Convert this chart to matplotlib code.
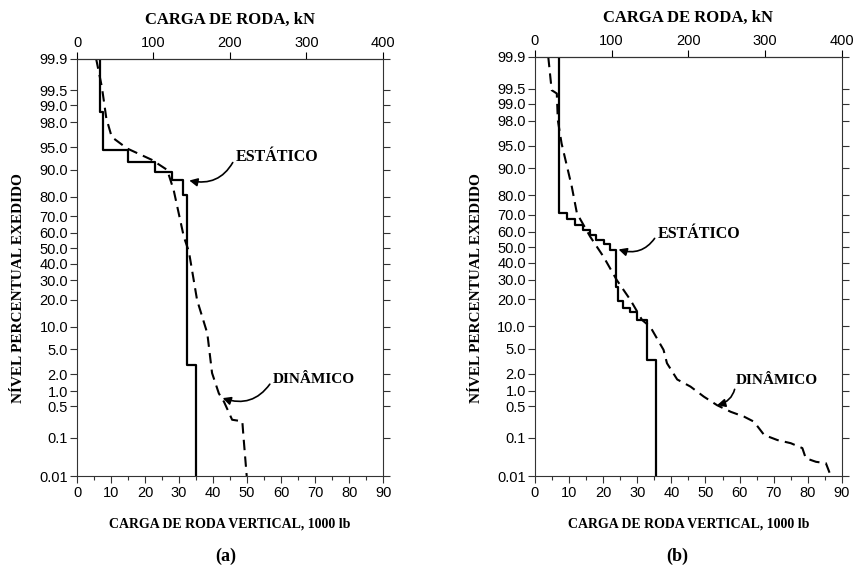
import numpy as np
import matplotlib.pyplot as plt
from statistics import NormalDist

# escala de probabilidade normal (percentagem -> desvio padrão)
nd = NormalDist()


def _ppf(v):
    if not np.isfinite(v):
        return np.nan
    v = min(max(v, 1e-7), 100 - 1e-7)
    return nd.inv_cdf(v / 100.0)


def _cdf(v):
    if not np.isfinite(v):
        return np.nan
    return nd.cdf(v) * 100.0


pct_fwd = np.vectorize(_ppf, otypes=[float])
pct_inv = np.vectorize(_cdf, otypes=[float])


def kip_to_kn(x):
    return np.asarray(x) * 4.448


def kn_to_kip(x):
    return np.asarray(x) / 4.448


# ---- dados (a) ----
a_static_load = [6.8, 7.6, 15.1, 23.0, 27.9, 31.2, 32.4, 35.1, 35.1]
a_static_pct = [99.9, 98.7, 94.6, 92.1, 89.2, 86.7, 80.7, 2.9, 0.01]

a_dyn_load = [5.6, 7.3, 8.6, 10.2, 14.7, 22.0, 26.5, 28.4, 31.4, 32.9, 35.3,
              38.3, 39.7, 41.7, 43.2, 45.6, 48.6, 48.9, 49.9]
a_dyn_pct = [99.9, 99.57, 98.3, 96.5, 94.8, 92.5, 89.9, 82.9, 57.4, 47.7, 19.9,
             8.3, 2.1, 0.9, 0.62, 0.26, 0.24, 0.117, 0.01]

# ---- dados (b) ----
b_static_load = [6.9, 9.3, 11.8, 14.0, 16.2, 17.9, 20.1, 21.9, 23.8, 24.3,
                 25.8, 27.9, 29.9, 32.8, 35.5, 35.5]
b_static_pct = [99.9, 71.2, 67.4, 64.1, 61.0, 57.9, 54.7, 52.1, 48.2, 26.1,
                19.3, 16.1, 14.8, 11.9, 3.4, 0.01]

b_dyn_load = [3.9, 4.9, 6.4, 6.7, 7.8, 10.8, 12.3, 16.2, 20.1, 24.0, 28.0,
              31.4, 33.8, 37.7, 38.7, 41.7, 45.6, 49.5, 53.4, 57.4, 61.3,
              64.2, 67.2, 71.1, 75.0, 78.4, 79.4, 82.4, 85.3, 86.8]
b_dyn_pct = [99.9, 99.46, 99.37, 98.05, 95.4, 83.7, 70.9, 56.8, 43.9, 29.7,
             19.6, 11.9, 9.87, 4.8, 3.0, 1.6, 1.19, 0.77, 0.52, 0.38, 0.30,
             0.233, 0.116, 0.088, 0.074, 0.056, 0.031, 0.025, 0.023, 0.01]

pct_ticks = [0.01, 0.1, 0.5, 1.0, 2.0, 5.0, 10.0, 20.0, 30.0, 40.0, 50.0,
             60.0, 70.0, 80.0, 90.0, 95.0, 98.0, 99.0, 99.5, 99.9]
pct_labels = ['0.01', '0.1', '0.5', '1.0', '2.0', '5.0', '10.0', '20.0',
              '30.0', '40.0', '50.0', '60.0', '70.0', '80.0', '90.0', '95.0',
              '98.0', '99.0', '99.5', '99.9']
kip_ticks = list(range(0, 91, 10))
kn_ticks = [0, 100, 200, 300, 400]

plt.rcParams['font.family'] = ['Liberation Sans', 'DejaVu Sans']
serif_bold = dict(family=['Liberation Serif', 'DejaVu Serif'], weight='bold')

fig = plt.figure(figsize=(8.55, 5.71), dpi=100)
ax_a = fig.add_axes([0.0901, 0.1655, 0.358, 0.732])
ax_b = fig.add_axes([0.6257, 0.1655, 0.359, 0.735])

panels = [
    (ax_a, a_static_load, a_static_pct, a_dyn_load, a_dyn_pct),
    (ax_b, b_static_load, b_static_pct, b_dyn_load, b_dyn_pct),
]

for ax, sx, sy, dx, dy in panels:
    ax.set_yscale('function', functions=(pct_fwd, pct_inv))
    ax.step(sx, sy, where='pre', color='black', lw=1.6)
    ax.plot(dx, dy, color='black', lw=1.5, linestyle=(0, (5, 3)))

    ax.set_xlim(0, 90)
    ax.set_ylim(0.01, 99.9)
    ax.set_xticks(kip_ticks)
    ax.set_xticks(range(5, 90, 10), minor=True)
    ax.set_yticks(pct_ticks)
    ax.set_yticklabels(pct_labels)
    ax.yaxis.set_minor_locator(plt.NullLocator())
    ax.tick_params(axis='both', which='both', direction='out', labelsize=10.5,
                   width=0.8, color='#333333', pad=1.5)
    ax.tick_params(axis='y', right=True, length=5)
    ax.tick_params(axis='x', which='major', length=5)
    ax.tick_params(axis='x', which='minor', length=3)
    for sp in ax.spines.values():
        sp.set_linewidth(0.8)
        sp.set_color('#333333')

    top = ax.secondary_xaxis('top', functions=(kip_to_kn, kn_to_kip))
    top.set_xticks(kn_ticks)
    top.tick_params(direction='out', length=5, labelsize=10.5, width=0.8,
                    pad=1)
    top.set_xlabel('CARGA DE RODA, kN', fontsize=12, labelpad=9, **serif_bold)

    ax.set_xlabel('CARGA DE RODA VERTICAL, 1000 lb', fontsize=10,
                  labelpad=13, **serif_bold)
    ax.set_ylabel('NÍVEL PERCENTUAL EXEDIDO', fontsize=11, **serif_bold)
    ax.yaxis.set_label_coords(-0.17, 0.45)

arrow = dict(arrowstyle='-|>', color='black', lw=1.2, mutation_scale=12,
             shrinkA=0, shrinkB=0, relpos=(0, 0.5))

ax_a.annotate('ESTÁTICO', xy=(33.0, 86.5), xytext=(46.6, 93.1),
              va='center', ha='left', fontsize=11.5, **serif_bold,
              arrowprops=dict(arrow, connectionstyle='arc3,rad=-0.4'))
ax_a.annotate('DINÂMICO', xy=(42.8, 0.73), xytext=(57.5, 1.59),
              va='center', ha='left', fontsize=11, **serif_bold,
              arrowprops=dict(arrow, connectionstyle='arc3,rad=-0.4'))
ax_b.annotate('ESTÁTICO', xy=(24.5, 48.6), xytext=(35.9, 58.5),
              va='center', ha='left', fontsize=11.5, **serif_bold,
              arrowprops=dict(arrow, connectionstyle='arc3,rad=-0.4'))
ax_b.annotate('DINÂMICO', xy=(53.4, 0.52), xytext=(58.8, 1.56),
              va='center', ha='left', fontsize=11, **serif_bold,
              arrowprops=dict(arrow, connectionstyle='arc3,rad=-0.4'))

fig.text(0.264, 0.026, '(a)', ha='center', va='center', fontsize=13,
         **serif_bold)
fig.text(0.792, 0.026, '(b)', ha='center', va='center', fontsize=13,
         **serif_bold)

fig.savefig('out.png', dpi=100, facecolor='white')
